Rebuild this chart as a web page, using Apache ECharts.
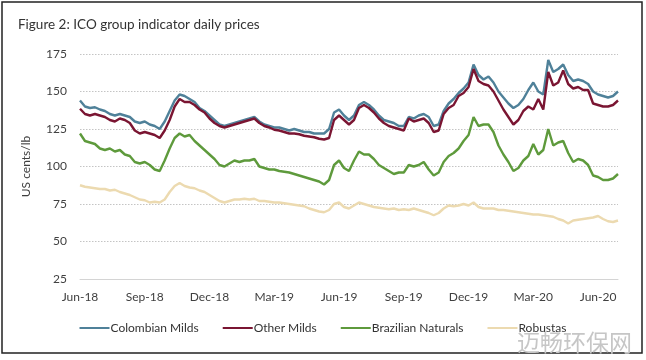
<!DOCTYPE html>
<html>
<head>
<meta charset="utf-8">
<script src="https://cdn.jsdelivr.net/npm/echarts@6/dist/echarts.min.js"></script>
<style>html,body{margin:0;padding:0;background:#fff;}#c{width:646px;height:360px;}</style>
</head>
<body>
<div id="c"></div>
<script>
// weekly samples starting 1 Jun 2018 (index = weeks since 1 Jun 2018)
const tickLabels = ['Jun-18','Sep-18','Dec-18','Mar-19','Jun-19','Sep-19','Dec-19','Mar-20','Jun-20'];
const seriesNames = ['Colombian Milds','Other Milds','Brazilian Naturals','Robustas'];

const colombianMilds = [144,140,139,139.5,138,137,135,134,135,134,133,130,129,130,128,127,125,130,137,144,148,147,145,143,139,137,134,131,
  128,127,128,129,130,131,132,133,130,128,127,126,126,125,124,125,124,123,123,122,122,122,125,136,138,134,131,
  134,141,143,141,138,134,131,130,129,127,127,133,132,134,135,133,127,128,137,142,145,149,152,156,168,161,158,160,
  156,150,146,142,139,141,145,151,156,150,148,171,163,165,168,161,157,158,157,155,150,148,147,146,147,150];
const otherMilds = [138.5,135,134,135,134,133,131,130,132,131,129,124,122,123,122,121,119,124,131,140,145,143,143,141,138,136,132,129,
  127,126,127,128,129,130,131,132,129,127,126,124.5,124,123,122,122,121.5,120.5,120,119.5,118.5,118,119,131,134,131,128,
  131,139,141,139,136,132,129,127,126,125,124,132,130,131,132,129,123,124,135,139,141,147,149,153,165,157,155,154,
  150,144,138,133,128,131,137,140,138,145,138,163,154,156,164,155,152,153,151,151,142,141,140,140,141,144];
const brazilianNaturals = [122,117,116,115,112,111,112,110,111,108,107,103,102,103,101,98,97,104,112,119,122,120,121,117,114,111,108,105,
  101,100,102,104,103,104,104,105,100,99,98,98,97,96.5,96,95,94,93,92,91,90,88,91,101,104,99,97,
  104,110,108,108,105,101,99,97,95,96,96,101,100,101,103,98,94,96,103,107,109,112,117,121,133,127,128,128,
  123,114,108,103,97,99,104,107,115,108,111,125,114,116,117,109,103,105,104,101,94,93,91,91,92,95];
const robustas = [87.5,86.5,86,85.5,85,85,84,84.5,83,82,81,79.5,78,77.5,76,76.5,76,78,83,87,89,87,86,85.5,84,83,81,79,
  77,76,77,78,78,78.5,78,78.5,77,77,76.5,76,76,75.5,75,74.5,74,73.5,72,71,70,69.5,71,75,76,73,72,
  74,76,75,74,73,72.5,72,71.5,72,71,71.5,71,72,71,70,69,67.5,69,72,74,73.5,74,75,74,76,73,72,72,
  72,71,71,70.5,70,69.5,69,68.5,68,68,67.5,67,66.5,65,64,62,64,64.5,65,65.5,66,67,65,63.5,63,64];

const colors = ['#4f8199','#7a1532','#5e9a3c','#ecdab0'];
const allValues = [colombianMilds, otherMilds, brazilianNaturals, robustas];
const WEEKS_PER_QUARTER = 13;

const chart = echarts.init(document.getElementById('c'), null, {renderer:'canvas'});
const font = 'Lato, "Open Sans", sans-serif';
chart.setOption({
  animation:false,
  backgroundColor:'#fff',
  textStyle:{fontFamily:font},
  title:{text:'Figure 2: ICO group indicator daily prices', left:13, top:13,
    textStyle:{fontSize:13.5, fontWeight:'normal', color:'#333', fontFamily:font}},
  grid:{left:80, right:28, top:54, bottom:81},
  legend:{
    data:seriesNames, left:'center', top:317, itemWidth:30, itemHeight:2, itemGap:24, icon:'rect',
    textStyle:{fontSize:12, color:'#333', fontFamily:font, padding:[0,0,0,-4]}
  },
  xAxis:{
    type:'value', min:0, max:108, interval:WEEKS_PER_QUARTER,
    axisLine:{show:true, lineStyle:{color:'#d4d4d4', width:1}},
    axisTick:{show:false},
    splitLine:{show:false},
    axisLabel:{color:'#404040', fontSize:12, margin:12, showMaxLabel:false,
      formatter:function(v){ const i = Math.round(v/WEEKS_PER_QUARTER); return (Math.abs(v - i*WEEKS_PER_QUARTER) < 0.01 && tickLabels[i]) ? tickLabels[i] : ''; }}
  },
  yAxis:{
    type:'value', min:25, max:175, interval:25,
    name:'US cents/lb', nameLocation:'middle', nameGap:48,
    nameTextStyle:{fontSize:12, color:'#404040', fontFamily:font},
    axisLine:{show:false}, axisTick:{show:false},
    axisLabel:{color:'#404040', fontSize:12, margin:13},
    splitLine:{lineStyle:{color:'#c4c4c4', type:[1.5,1.5], width:1}}
  },
  series: seriesNames.map((n,k)=>({
    name:n, type:'line', showSymbol:false, symbol:'none',
    data: allValues[k].map((v,i)=>[i,v]),
    lineStyle:{color:colors[k], width:2.4},
    itemStyle:{color:colors[k]},
    z: k===1 ? 3 : 2
  })),
  graphic:[
    {type:'rect', shape:{x:2, y:2, width:640, height:351}, style:{fill:'none', stroke:'#222', lineWidth:1.5}, silent:true},
    {type:'text', left:517, top:331, style:{text:'迈畅环保网', fontSize:23, fill:'#c6c6c6', fontFamily:'"Noto Sans CJK SC"'}, silent:true}
  ]
});
</script>
</body>
</html>
